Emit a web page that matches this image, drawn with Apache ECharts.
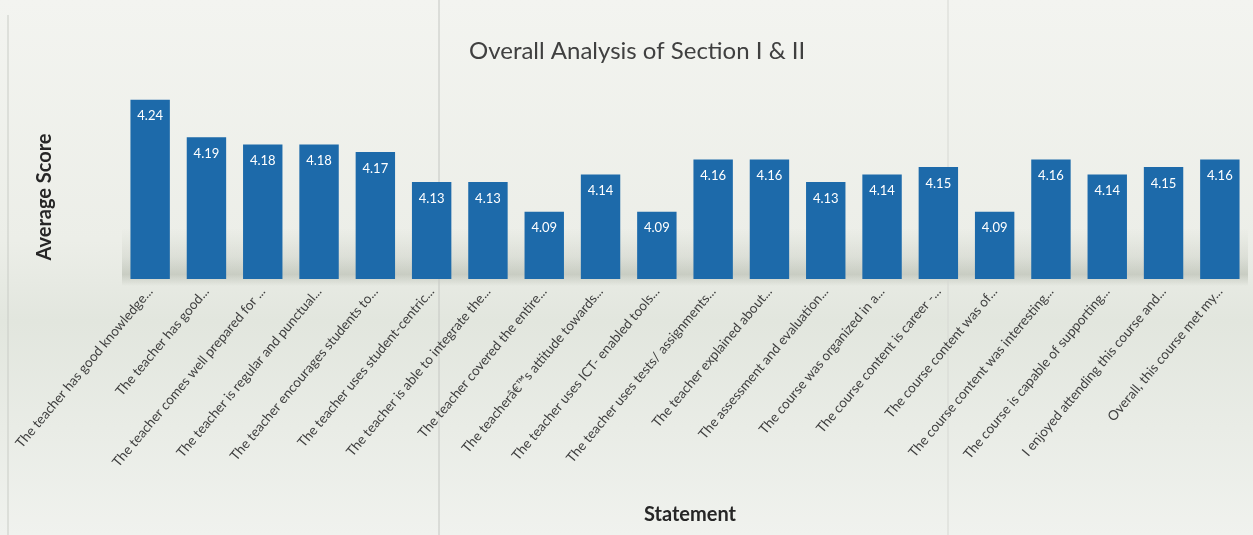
<!DOCTYPE html>
<html>
<head>
<meta charset="utf-8">
<script src="https://cdn.jsdelivr.net/npm/echarts@6/dist/echarts.min.js"></script>
<style>
html,body{margin:0;padding:0;background:#eef0ea;}
#chart{width:1253px;height:535px;}
</style>
</head>
<body>
<div id="chart"></div>
<script>
const categories = [
  "The teacher has good knowledge...",
  "The teacher has good...",
  "The teacher comes well prepared for ...",
  "The teacher is regular and punctual...",
  "The teacher encourages students to...",
  "The teacher uses student-centric...",
  "The teacher is able to integrate the...",
  "The teacher covered the entire...",
  "The teacherâ€™s attitude towards...",
  "The teacher uses ICT- enabled tools...",
  "The teacher uses tests/ assignments...",
  "The teacher explained about...",
  "The assessment and evaluation...",
  "The course was organized in a...",
  "The course content is career -...",
  "The course content was of...",
  "The course content was interesting...",
  "The course is capable of supporting...",
  "I enjoyed attending this course and...",
  "Overall, this course met my..."
];
const averageScores = [4.24, 4.19, 4.18, 4.18, 4.17, 4.13, 4.13, 4.09, 4.14, 4.09, 4.16, 4.16, 4.13, 4.14, 4.15, 4.09, 4.16, 4.14, 4.15, 4.16];
const titleText = "Overall Analysis of Section I & II";
const yAxisTitle = "Average Score";
const xAxisTitle = "Statement";

const chart = echarts.init(document.getElementById('chart'));
const FONT = 'Lato, "Open Sans", sans-serif';
chart.setOption({
  animation: false,
  backgroundColor: {
    type: 'linear', x: 0, y: 0, x2: 0, y2: 1,
    colorStops: [
      {offset: 0, color: '#f3f4f0'},
      {offset: 0.45, color: '#eceee8'},
      {offset: 0.6, color: '#e2e6de'},
      {offset: 0.8, color: '#e9ece6'},
      {offset: 1, color: '#f0f2ee'}
    ]
  },
  title: {
    text: titleText,
    left: 464,
    top: 34,
    textStyle: {fontFamily: FONT, fontSize: 24, fontWeight: 'normal', color: '#404040'}
  },
  graphic: [
    {
      type: 'rect', z: -1, silent: true,
      shape: {x: 122, y: 228, width: 1126, height: 58},
      style: {
        fill: {
          type: 'linear', x: 0, y: 0, x2: 0, y2: 1,
          colorStops: [
            {offset: 0, color: 'rgba(120,128,110,0)'},
            {offset: 0.5, color: 'rgba(120,128,110,0.12)'},
            {offset: 0.8, color: 'rgba(120,128,110,0.28)'},
            {offset: 0.93, color: 'rgba(120,128,110,0.1)'},
            {offset: 1, color: 'rgba(120,128,110,0)'}
          ]
        }
      }
    },
    {type: 'line', silent: true, z: -1, shape: {x1: 8, y1: 15, x2: 8, y2: 535}, style: {stroke: '#c9ccc6', lineWidth: 1}},
    {type: 'line', silent: true, z: -1, shape: {x1: 439, y1: 0, x2: 439, y2: 535}, style: {stroke: '#c4c6c2', lineWidth: 1}},
    {type: 'line', silent: true, z: -1, shape: {x1: 948, y1: 0, x2: 948, y2: 535}, style: {stroke: '#d6d8d3', lineWidth: 1}},
    {
      type: 'text', silent: true,
      x: 45, y: 197, rotation: Math.PI / 2,
      style: {
        text: yAxisTitle, fontFamily: FONT, fontSize: 20, fontWeight: 'bold',
        fill: '#262626', align: 'center', verticalAlign: 'middle'
      }
    }
  ],
  grid: {left: 122, right: 5, top: 55, bottom: 256},
  xAxis: {
    type: 'category',
    data: categories,
    name: xAxisTitle,
    nameLocation: 'middle',
    nameGap: 226,
    nameTextStyle: {fontFamily: FONT, fontSize: 20, fontWeight: 'bold', color: '#262626', padding: [0, 0, 0, 10]},
    axisLine: {show: false},
    axisTick: {show: false},
    axisLabel: {
      interval: 0, rotate: 50, margin: 10,
      fontFamily: FONT, fontSize: 13.5, color: '#404040'
    }
  },
  yAxis: {
    type: 'value',
    min: 4.0, max: 4.3,
    show: false,
    splitLine: {show: false}
  },
  series: [{
    type: 'bar',
    data: averageScores,
    barWidth: '70%',
    itemStyle: {color: '#1d6aaa'},
    label: {
      show: true, position: 'insideTop', distance: 10,
      fontFamily: FONT, fontSize: 13, color: '#ffffff',
      formatter: p => p.value.toFixed(2)
    }
  }]
});
</script>
</body>
</html>
